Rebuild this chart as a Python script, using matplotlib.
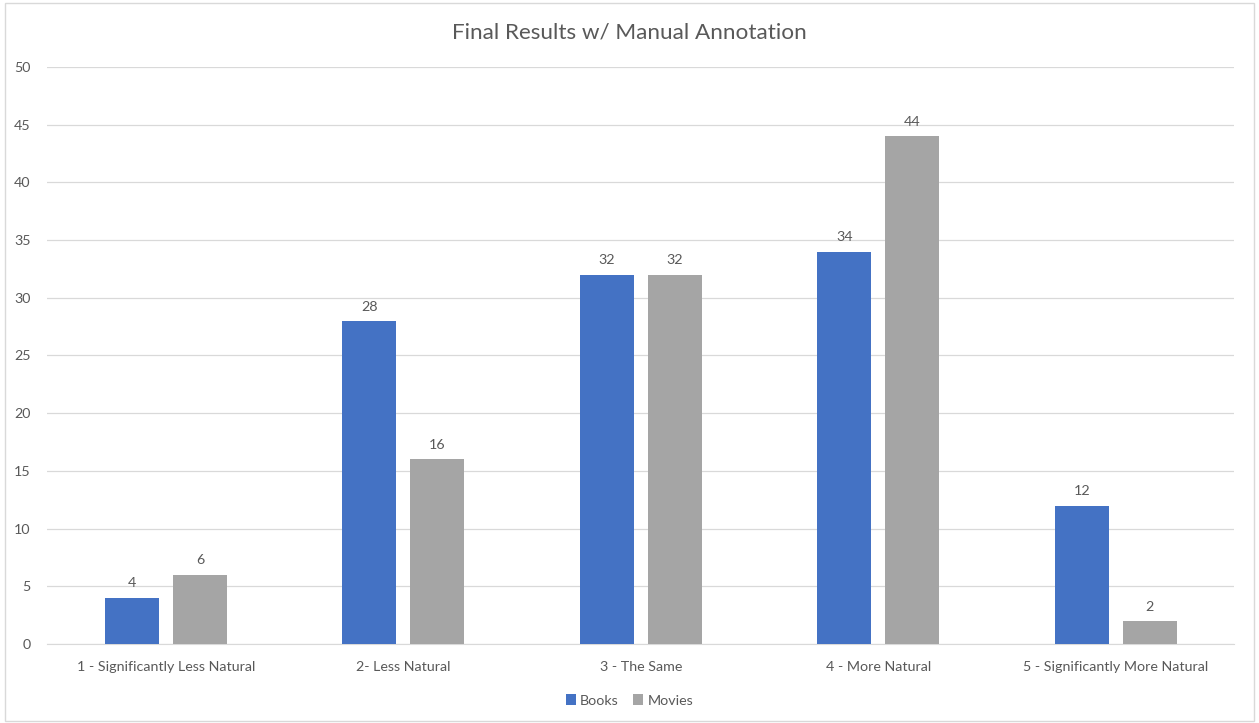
import matplotlib
matplotlib.use("Agg")
import matplotlib.pyplot as plt
import numpy as np

plt.rcParams["font.family"] = ["Lato", "DejaVu Sans"]

categories = ["1 - Significantly Less Natural", "2- Less Natural", "3 - The Same",
              "4 - More Natural", "5 - Significantly More Natural"]
books = [4, 28, 32, 34, 12]
movies = [6, 16, 32, 44, 2]

BLUE = "#4472C4"
GREY = "#A5A5A5"
TXT = "#595959"

fig = plt.figure(figsize=(12.59, 7.23), dpi=100)
ax = fig.add_axes([0.0375, 0.1093, 0.943, 0.798])

x = np.arange(len(categories))
w = 0.2276
off = (w + 0.059) / 2
bb = ax.bar(x - off, books, w, color=BLUE, label="Books", zorder=3)
bm = ax.bar(x + off, movies, w, color=GREY, label="Movies", zorder=3)
for bars in (bb, bm):
    ax.bar_label(bars, padding=6, fontsize=10.3, color=TXT)

ax.set_xlim(-0.5, len(categories) - 0.5)
ax.set_ylim(0, 50)
ax.set_yticks(range(0, 51, 5))
ax.set_xticks(x)
ax.set_xticklabels(categories)
ax.grid(axis="y", color="#D9D9D9", lw=0.9, zorder=0)
for s in ("top", "right", "left"):
    ax.spines[s].set_visible(False)
ax.spines["bottom"].set_color("#D9D9D9")
ax.tick_params(length=0, labelsize=10.3, colors=TXT)
ax.tick_params(axis="x", pad=12)
ax.tick_params(axis="y", pad=12)

fig.suptitle("Final Results w/ Manual Annotation", fontsize=16.2, color=TXT, y=0.969)
fig.legend(loc="lower center", ncol=2, frameon=False, fontsize=10.3, labelcolor=TXT,
           handlelength=0.7, handleheight=0.7, handletextpad=0.3, columnspacing=1.0,
           bbox_to_anchor=(0.5, 0.005))

# outer chart border
fig.add_artist(plt.Rectangle((0.004, 0.003), 0.992, 0.993, transform=fig.transFigure,
                             fill=False, ec="#D9D9D9", lw=1))

fig.savefig("out.png", dpi=100)
